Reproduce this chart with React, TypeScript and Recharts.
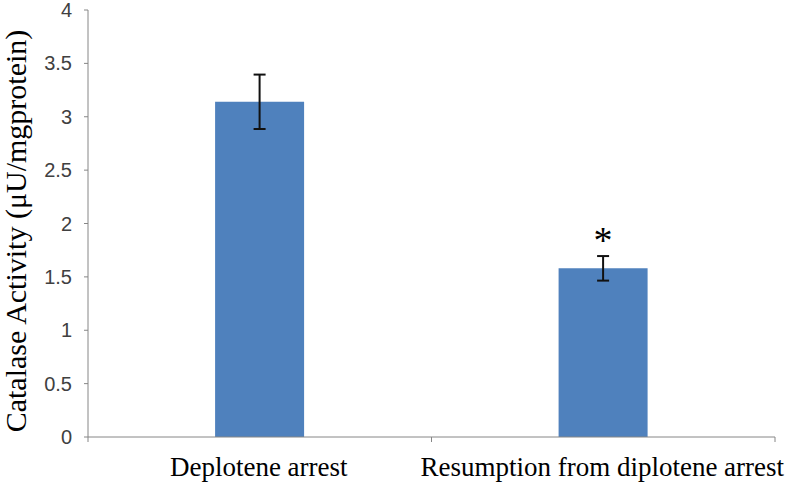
import { BarChart, Bar, XAxis, YAxis, ErrorBar, LabelList, Label } from 'recharts';

const categories = ['Deplotene arrest', 'Resumption from diplotene arrest'];
const catalase = [3.14, 1.58];
const catalaseSE = [0.255, 0.115];
const marks = ['', '*'];
const yTicks = [0, 0.5, 1, 1.5, 2, 2.5, 3, 3.5, 4];

const data = categories.map((name, i) => ({
  name,
  value: catalase[i],
  err: catalaseSE[i],
  mark: marks[i],
}));

const AXIS_COLOR = '#868686';

function CategoryTick(props: any) {
  const { x, y, payload } = props;
  const half = payload.offset ?? 0;
  return (
    <g>
      <line x1={x - half} y1={y - 8} x2={x - half} y2={y - 3} stroke={AXIS_COLOR} strokeWidth={1} />
      <line x1={x + half} y1={y - 8} x2={x + half} y2={y - 3} stroke={AXIS_COLOR} strokeWidth={1} />
      <text
        x={x - 1}
        y={y + 31}
        textAnchor="middle"
        fill="#000"
        fontFamily="'Liberation Serif', serif"
        fontSize={27}
      >
        {payload.value}
      </text>
    </g>
  );
}

export default function App() {
  return (
    <div style={{ position: 'absolute', left: 0, top: 0, width: 792, height: 488, background: '#fff' }}>
      <BarChart
        width={792}
        height={488}
        data={data}
        margin={{ top: 10, right: 17, bottom: 0, left: 0 }}
        barCategoryGap="37%"
      >
        <XAxis
          dataKey="name"
          height={51}
          axisLine={{ stroke: AXIS_COLOR, strokeWidth: 1 }}
          tickLine={false}
          tick={<CategoryTick />}
          interval={0}
        />
        <YAxis
          width={88}
          domain={[0, 4]}
          ticks={yTicks}
          interval={0}
          axisLine={{ stroke: AXIS_COLOR, strokeWidth: 1 }}
          tickLine={{ stroke: AXIS_COLOR, strokeWidth: 1 }}
          tickSize={4}
          tickMargin={12}
          tick={{ fill: '#404040', fontSize: 20, fontFamily: "'Liberation Sans', Arial, sans-serif" }}
        >
          <Label
            content={() => (
              <text
                x={26}
                y={231}
                transform="rotate(-90 26 231)"
                textAnchor="middle"
                fill="#000"
                fontFamily="'Liberation Serif', serif"
                fontSize={30}
              >
                Catalase Activity (μU/mgprotein)
              </text>
            )}
          />
        </YAxis>
        <Bar dataKey="value" fill="#4F81BD" isAnimationActive={false}>
          <ErrorBar dataKey="err" width={6} stroke="#111" strokeWidth={2} direction="y" />
          <LabelList
            dataKey="mark"
            position="top"
            offset={15}
            fill="#000"
            fontSize={38}
            fontFamily="'Liberation Serif', serif"
          />
        </Bar>
      </BarChart>
    </div>
  );
}
